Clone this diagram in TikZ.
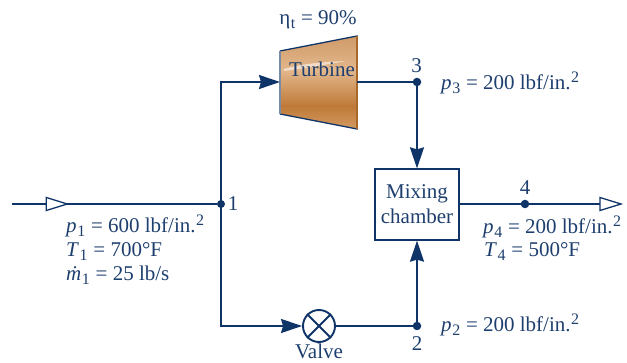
\documentclass[tikz,border=0pt]{standalone}
\usepackage{fontspec}
\setmainfont{Liberation Serif}
\usetikzlibrary{arrows.meta,decorations.markings}
\definecolor{navy}{HTML}{0F3468}
\definecolor{labelc}{HTML}{1E3F6E}
\definecolor{C1}{HTML}{CF9A68}
\definecolor{C2}{HTML}{E3B78C}
\definecolor{C3}{HTML}{BF7A38}
\definecolor{C4}{HTML}{D29A62}
\definecolor{C5}{HTML}{A8682C}
\newcommand{\lowr}[1]{\raisebox{-3.8pt}{\fontsize{16}{17}\selectfont\upshape\kern0.6pt #1\kern0.5pt}}
\newcommand{\upr}[1]{\raisebox{7.5pt}{\fontsize{16}{17}\selectfont\kern0.5pt #1}}
\tikzset{
  pipe/.style={draw=navy,line width=1.9pt},
  solidtip/.style={pipe,-{Stealth[length=21pt,width=14pt,inset=2pt,fill=navy]}},
  dotnode/.style={circle,fill=navy,inner sep=0pt,minimum size=8.5pt},
  txt/.style={text=labelc,font=\fontsize{21}{22}\selectfont,inner sep=0pt},
  info/.style={txt,anchor=base west},
  hollow/.style={postaction={decorate,decoration={markings,mark=at position #1 with {\draw[navy,line width=1.3pt,fill=white] (-21pt,-6.5pt) -- (0pt,0pt) -- (-21pt,6.5pt) -- cycle;}}}}
}
\begin{document}
\begin{tikzpicture}[x=1pt,y=-1pt]
\useasboundingbox (0,0) rectangle (627,363);
% turbine body
\coordinate (tnw) at (280,51);
\coordinate (tne) at (357,36);
\coordinate (tse) at (357,129);
\coordinate (tsw) at (280,114);
\begin{scope}
  \clip (tnw) -- (tne) -- (tse) -- (tsw) -- cycle;
  \shade[top color=C1,bottom color=C2] (280,36) rectangle (357,70);
  \shade[top color=C2,bottom color=C3] (280,70) rectangle (357,106);
  \shade[top color=C3,bottom color=C4] (280,106) rectangle (357,129);
  \fill[white,opacity=.55] (284,69) .. controls (305,63) and (325,62) .. (346,61) .. controls (325,65) and (305,68) .. (284,71) -- cycle;
\end{scope}
\draw[navy,line width=1.3pt] (tsw) -- (tse) -- (tne) -- (tnw);
\draw[color=labelc!60!white,line width=1.5pt] (tnw) -- (tsw);
\draw[color=C5,line width=1.5pt] (tne) -- (tse);
\node[txt] (turb) at (322,69) {Turbine};
\node[txt] (eta) at (318,20) {η\lowr{t} = 90\%};
\coordinate (tin) at (280,82);
\coordinate (tout) at (357,82);
% points
\coordinate (in) at (12,204);
\coordinate (out) at (621,204);
\node[dotnode,minimum size=8pt] (j1) at (221,204) {};
\node[dotnode] (j3) at (417,82) {};
\node[dotnode] (j2) at (417,326) {};
\node[dotnode] (j4) at (525,204) {};
\node[draw=navy,line width=1.3pt,minimum width=84pt,minimum height=71pt,inner sep=0pt,txt,align=center,font=\fontsize{21}{25}\selectfont] (mix) at (417,204.5) {Mixing\\chamber};
\node[circle,draw=navy,line width=1.9pt,minimum size=32pt,inner sep=0pt] (valve) at (319,326) {};
\draw[navy,line width=1.9pt] (valve.45) -- (valve.225) (valve.135) -- (valve.315);
% connectors
\draw[pipe,hollow=0.27] (in) -- (j1);
\draw[pipe,hollow=1] (mix.east |- out) -- (out);
\draw[solidtip] (j1.center) |- (tin);
\draw[solidtip] (j1.center) |- (valve.west);
\draw[pipe] (tout) -- (j3.center);
\draw[pipe] (valve.east) -- (j2.center);
\draw[solidtip] (j3.center) -- (mix.north);
\draw[solidtip] (j2.center) -- (mix.south);
% labels
\node[txt] (n1) at (233,204) {1};
\node[txt] (n3) at (416.5,66) {3};
\node[txt] (n2) at (417,344) {2};
\node[txt] (n4) at (525,188) {4};
\node[txt,anchor=base] (nv) at (319,359) {Valve};
\node[info] (p1) at (66,233) {\textit{p}\lowr{1} = 600 lbf/in.\upr{2}};
\node[info] (t1) at (66,257) {\textit{T}\lowr{1} = 700°F};
\node[info] (m1) at (66,281) {\textit{ṁ}\lowr{1} = 25 lb/s};
\node[info] (p3) at (441,90) {\textit{p}\lowr{3} = 200 lbf/in.\upr{2}};
\node[info] (p2) at (441,332) {\textit{p}\lowr{2} = 200 lbf/in.\upr{2}};
\node[info] (p4) at (483,234) {\textit{p}\lowr{4} = 200 lbf/in.\upr{2}};
\node[info] (t4) at (484,257) {\textit{T}\lowr{4} = 500°F};
\end{tikzpicture}
\end{document}
